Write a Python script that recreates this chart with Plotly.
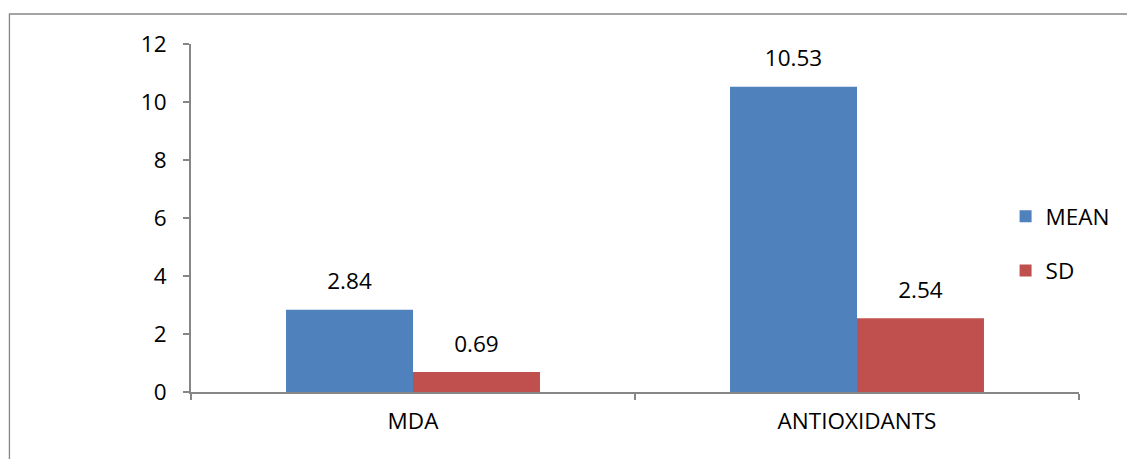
import plotly.graph_objects as go

categories = ["MDA", "ANTIOXIDANTS"]
mean_values = [2.84, 10.53]
sd_values = [0.69, 2.54]
mean_labels = ["2.84", "10.53"]
sd_labels = ["0.69", "2.54"]
y_ticks = [0, 2, 4, 6, 8, 10, 12]

FONT = "'Open Sans', Lato, 'Liberation Sans', sans-serif"
AXIS_COLOR = "#868686"
FS = 22.5

fig = go.Figure()
series = [("MEAN", mean_values, mean_labels, "#4F81BD"),
          ("SD", sd_values, sd_labels, "#C0504D")]
for name, vals, labels, color in series:
    fig.add_trace(go.Bar(
        x=categories, y=vals, name=name, marker_color=color,
        marker_line_width=0, offsetgroup=name, legendgroup=name))
for name, vals, labels, color in series:
    fig.add_trace(go.Scatter(
        x=categories, y=vals, mode="markers+text", text=labels,
        textposition="top center", offsetgroup=name,
        marker=dict(size=22, opacity=0), textfont=dict(size=FS, color="black"),
        showlegend=False, hoverinfo="skip", cliponaxis=False))

W, H = 1127, 459
L, R, T, B = 191, 41, 44, 67
pw, ph = W - L - R, H - T - B

def px(x):
    return (x - L) / pw

def py(y):
    return (H - B - y) / ph

fig.add_shape(type="rect", xref="paper", yref="paper",
              x0=px(8), x1=px(1145), y0=py(470), y1=py(14),
              line=dict(color=AXIS_COLOR, width=1.3), fillcolor="rgba(0,0,0,0)",
              layer="below")

fig.update_layout(
    width=W, height=H,
    margin=dict(l=L, r=R, t=T, b=B),
    paper_bgcolor="white", plot_bgcolor="white",
    font=dict(family=FONT, size=FS, color="black"),
    barmode="group", scattermode="group", bargap=0.428, bargroupgap=0,
    showlegend=True,
    legend=dict(x=px(1012), y=py(195), xanchor="left", yanchor="top",
                font=dict(size=FS), tracegroupgap=22, itemwidth=30,
                bgcolor="rgba(0,0,0,0)"),
)
fig.update_xaxes(
    showline=True, linecolor=AXIS_COLOR, linewidth=2,
    ticks="outside", tickson="boundaries", ticklen=6, tickcolor=AXIS_COLOR,
    tickwidth=2, showgrid=False, zeroline=False,
    tickfont=dict(size=FS), ticklabelstandoff=8,
)
fig.update_yaxes(
    range=[0, 12], tickvals=y_ticks, ticktext=[str(v) for v in y_ticks],
    showline=True, linecolor=AXIS_COLOR, linewidth=2,
    ticks="outside", ticklen=6, tickcolor=AXIS_COLOR, tickwidth=2,
    showgrid=False, zeroline=False, tickfont=dict(size=FS),
    ticklabelstandoff=12,
)

fig.write_html("out.html")
